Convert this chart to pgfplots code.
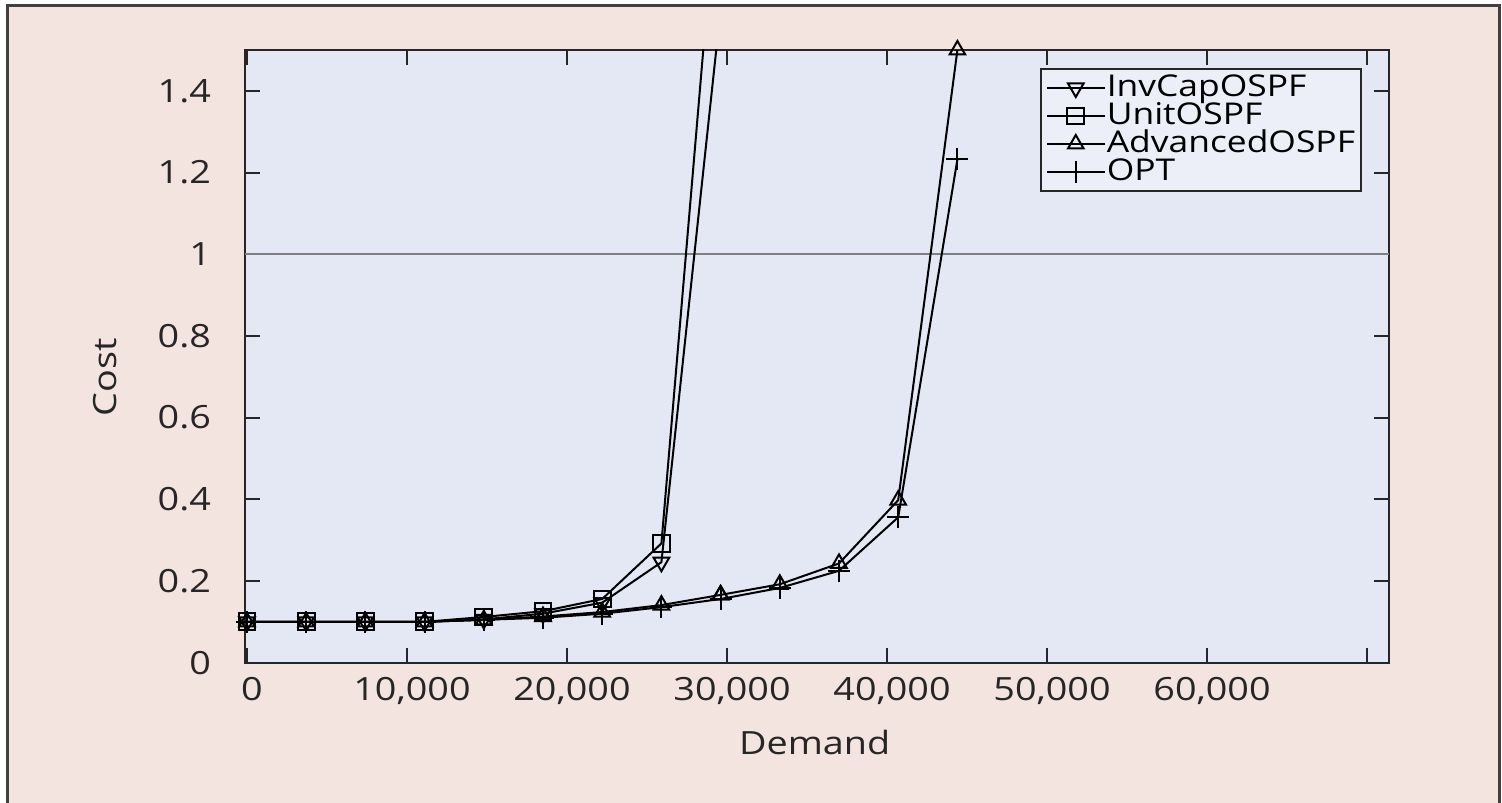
\documentclass[border=0pt]{standalone}
\usepackage{fontspec}
\setmainfont{Open Sans}[FakeStretch=1.18]
\usepackage{pgfplots}
\pgfplotsset{compat=1.18}
\definecolor{bgpink}{RGB}{243,228,224}
\definecolor{plotbg}{RGB}{228,232,245}
\definecolor{legbg}{RGB}{236,239,248}
\pgfplotstableread{
x      inv   unit  adv   opt
0      0.100 0.100 0.100 0.100
3700   0.100 0.100 0.100 0.100
7400   0.100 0.100 0.100 0.100
11100  0.100 0.100 0.100 0.100
14800  0.106 0.112 0.105 0.105
18500  0.120 0.126 0.113 0.110
22200  0.147 0.156 0.124 0.120
25900  0.246 0.292 0.141 0.136
29600  1.600 2.000 0.166 0.156
}\dataA
\pgfplotstableread{
x      adv   opt
29600  0.166 0.156
33300  0.192 0.183
37000  0.243 0.225
40700  0.398 0.356
44400  1.500 1.232
}\dataB
\begin{document}
\begin{tikzpicture}[x=1pt,y=1pt]
\useasboundingbox (-122.5,-69.65) rectangle (628.5,331.35);
\fill[white] (-122.5,-69.65) rectangle (628.5,331.35);
\filldraw[fill=bgpink, draw=black!75, line width=1.5pt] (-118.5,-80) rectangle (627,328.35);
\begin{axis}[
  at={(0,0)}, anchor=south west, scale only axis,
  width=572pt, height=306.35pt,
  xmin=-125, xmax=71375, ymin=0, ymax=1.5,
  scaled x ticks=false, scaled y ticks=false,
  axis background/.style={fill=plotbg},
  axis line style={line width=1pt, black!85},
  every tick/.style={line width=1pt, black!85},
  major tick length=7.5pt,
  tick align=inside,
  xtick pos=both, ytick pos=both,
  xtick={0,10000,20000,30000,40000,50000,60000,70000},
  xticklabels={0,{10,000},{20,000},{30,000},{40,000},{50,000},{60,000},{}},
  ytick={0,0.2,0.4,0.6,0.8,1,1.2,1.4},
  yticklabels={0,0.2,0.4,0.6,0.8,1,1.2,1.4},
  /pgf/number format/assume math mode=true,
  ticklabel style={font=\fontsize{16}{16}\selectfont, text=black!85},
  xticklabel shift=4pt, yticklabel shift=13.5pt,
  xticklabel style={xshift=2.5pt},
  xlabel={Demand}, ylabel={Cost},
  label style={font=\fontsize{16}{16}\selectfont, text=black!85},
  xlabel style={at={(axis description cs:0.498,0)}, yshift=-39.65pt, anchor=center},
  ylabel style={at={(axis description cs:0,0.466)}, yshift=70pt, anchor=center},
  legend style={at={(1,1)}, anchor=north east, xshift=-13.5pt, yshift=-9pt,
    fill=legbg, draw=black!85, line width=1pt,
    font=\fontsize{15}{15}\selectfont, row sep=0pt, inner sep=2.5pt,
    nodes={inner sep=0.5pt, text height=10.6pt, text depth=2.4pt}},
  legend cell align=left,
  legend image code/.code={\draw[mark repeat=2,mark phase=2,#1] plot coordinates {(0pt,0pt) (14.5pt,0pt) (29pt,0pt)};},
]
\addplot[gray, line width=1pt, forget plot] coordinates {(-125,1) (71375,1)};
\addplot[black, line width=1pt, mark=triangle, mark size=4.5pt, mark options={rotate=180, fill=white, solid}] table[x=x, y=inv] {\dataA};
\addlegendentry{InvCapOSPF}
\addplot[black, line width=1pt, mark=square, mark size=4.2pt, mark options={fill=white, solid}] table[x=x, y=unit] {\dataA};
\addlegendentry{UnitOSPF}
\addplot[black, line width=1pt, mark=triangle, mark size=4.5pt, mark options={fill=white, solid}] table[x=x, y=adv] {\dataA};
\addlegendentry{AdvancedOSPF}
\addplot[black, line width=1pt, mark=+, mark size=5.5pt] table[x=x, y=opt] {\dataA};
\addlegendentry{OPT}
\addplot[black, line width=1pt, mark=triangle, mark size=4.5pt, mark options={fill=white, solid}, forget plot] table[x=x, y=adv] {\dataB};
\addplot[black, line width=1pt, mark=+, mark size=5.5pt, forget plot] table[x=x, y=opt] {\dataB};
\end{axis}
\end{tikzpicture}
\end{document}
